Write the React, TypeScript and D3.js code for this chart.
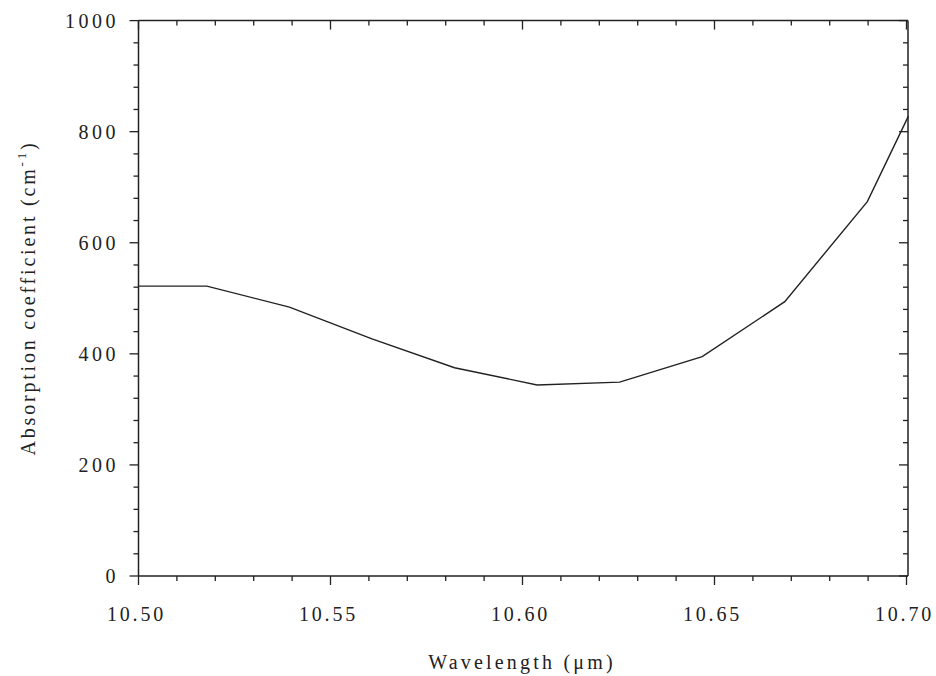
import React from "react";
import * as d3 from "d3";

const wavelength = [10.5, 10.5178, 10.5393, 10.5608, 10.5823, 10.6038, 10.6253, 10.6468, 10.6683, 10.6898, 10.7005];
const absorption = [522, 522, 484, 427, 375, 344, 349, 395, 494, 674, 828];
const xTicks = [10.5, 10.55, 10.6, 10.65, 10.7];
const yTicks = [0, 200, 400, 600, 800, 1000];

const W = 936;
const H = 676;
const left = 138.5;
const right = 906.5;
const top = 20.6;
const bottom = 576;
const FONT = "'Liberation Serif', 'Times New Roman', serif";

export default function App() {
  const x = d3.scaleLinear().domain([10.5, 10.7]).range([left, right]);
  const y = d3.scaleLinear().domain([0, 1000]).range([bottom, top]);
  const data = wavelength.map((w, i) => [w, absorption[i]] as [number, number]);
  const line = d3
    .line<[number, number]>()
    .x((d) => x(d[0]))
    .y((d) => y(d[1]));

  const xMinor = d3.range(0, 21).map((i) => 10.5 + i * 0.01);
  const yMinor = d3.range(0, 26).map((i) => i * 40);
  const isMajorX = (v: number) => xTicks.some((t) => Math.abs(t - v) < 1e-6);
  const isMajorY = (v: number) => yTicks.some((t) => Math.abs(t - v) < 1e-6);
  const axisColor = "#222";
  const axisRight = 908;

  return (
    <svg
      width={W}
      height={H}
      style={{ position: "absolute", left: 0, top: 0, background: "#fff" }}
      fontFamily={FONT}
    >
      <rect x={0} y={0} width={W} height={H} fill="#fff" />
      {/* frame */}
      <line x1={left} x2={left} y1={top} y2={bottom} stroke={axisColor} strokeWidth={1.5} />
      <line x1={left} x2={axisRight} y1={bottom} y2={bottom} stroke={axisColor} strokeWidth={1.5} />
      <line x1={left} x2={axisRight} y1={top} y2={top} stroke={axisColor} strokeWidth={1.5} />
      <line x1={axisRight} x2={axisRight} y1={top} y2={bottom} stroke={axisColor} strokeWidth={1.5} />

      {/* x ticks: outward at bottom, inward at top */}
      {xMinor.map((v, i) => {
        const major = isMajorX(v);
        const len = major ? 9 : 5;
        const px = x(v);
        return (
          <g key={"xt" + i}>
            <line x1={px} x2={px} y1={bottom} y2={bottom + len} stroke={axisColor} strokeWidth={1.3} />
            <line x1={px} x2={px} y1={top} y2={top + len} stroke={axisColor} strokeWidth={1.3} />
          </g>
        );
      })}
      {/* y ticks: outward at left, inward at right */}
      {yMinor.map((v, i) => {
        const major = isMajorY(v);
        const len = major ? 9 : 5;
        const py = y(v);
        return (
          <g key={"yt" + i}>
            <line x1={left - len} x2={left} y1={py} y2={py} stroke={axisColor} strokeWidth={1.3} />
            <line x1={axisRight - len} x2={axisRight} y1={py} y2={py} stroke={axisColor} strokeWidth={1.3} />
          </g>
        );
      })}

      {/* x tick labels */}
      {xTicks.map((t) => (
        <text
          key={"xl" + t}
          x={x(t) - 2}
          y={621}
          textAnchor="middle"
          fontSize={20}
          letterSpacing={2.8}
          fill="#222"
        >
          {t.toFixed(2)}
        </text>
      ))}
      {/* y tick labels */}
      {yTicks.map((t) => (
        <text
          key={"yl" + t}
          x={119}
          y={y(t) + 7}
          textAnchor="end"
          fontSize={20}
          letterSpacing={3.5}
          fill="#222"
        >
          {t}
        </text>
      ))}

      {/* data line */}
      <path d={line(data) || ""} fill="none" stroke="#222" strokeWidth={1.4} />

      {/* axis titles */}
      <text
        x={522}
        y={669}
        textAnchor="middle"
        fontSize={20}
        letterSpacing={3.2}
        fill="#222"
      >
        Wavelength (μm)
      </text>
      <text
        transform="translate(35,298) rotate(-90)"
        textAnchor="middle"
        fontSize={20}
        letterSpacing={2.8}
        fill="#222"
      >
        Absorption coefficient (cm
        <tspan fontSize={13} dy={-9}>-1</tspan>
        <tspan dy={9}>)</tspan>
      </text>
    </svg>
  );
}
